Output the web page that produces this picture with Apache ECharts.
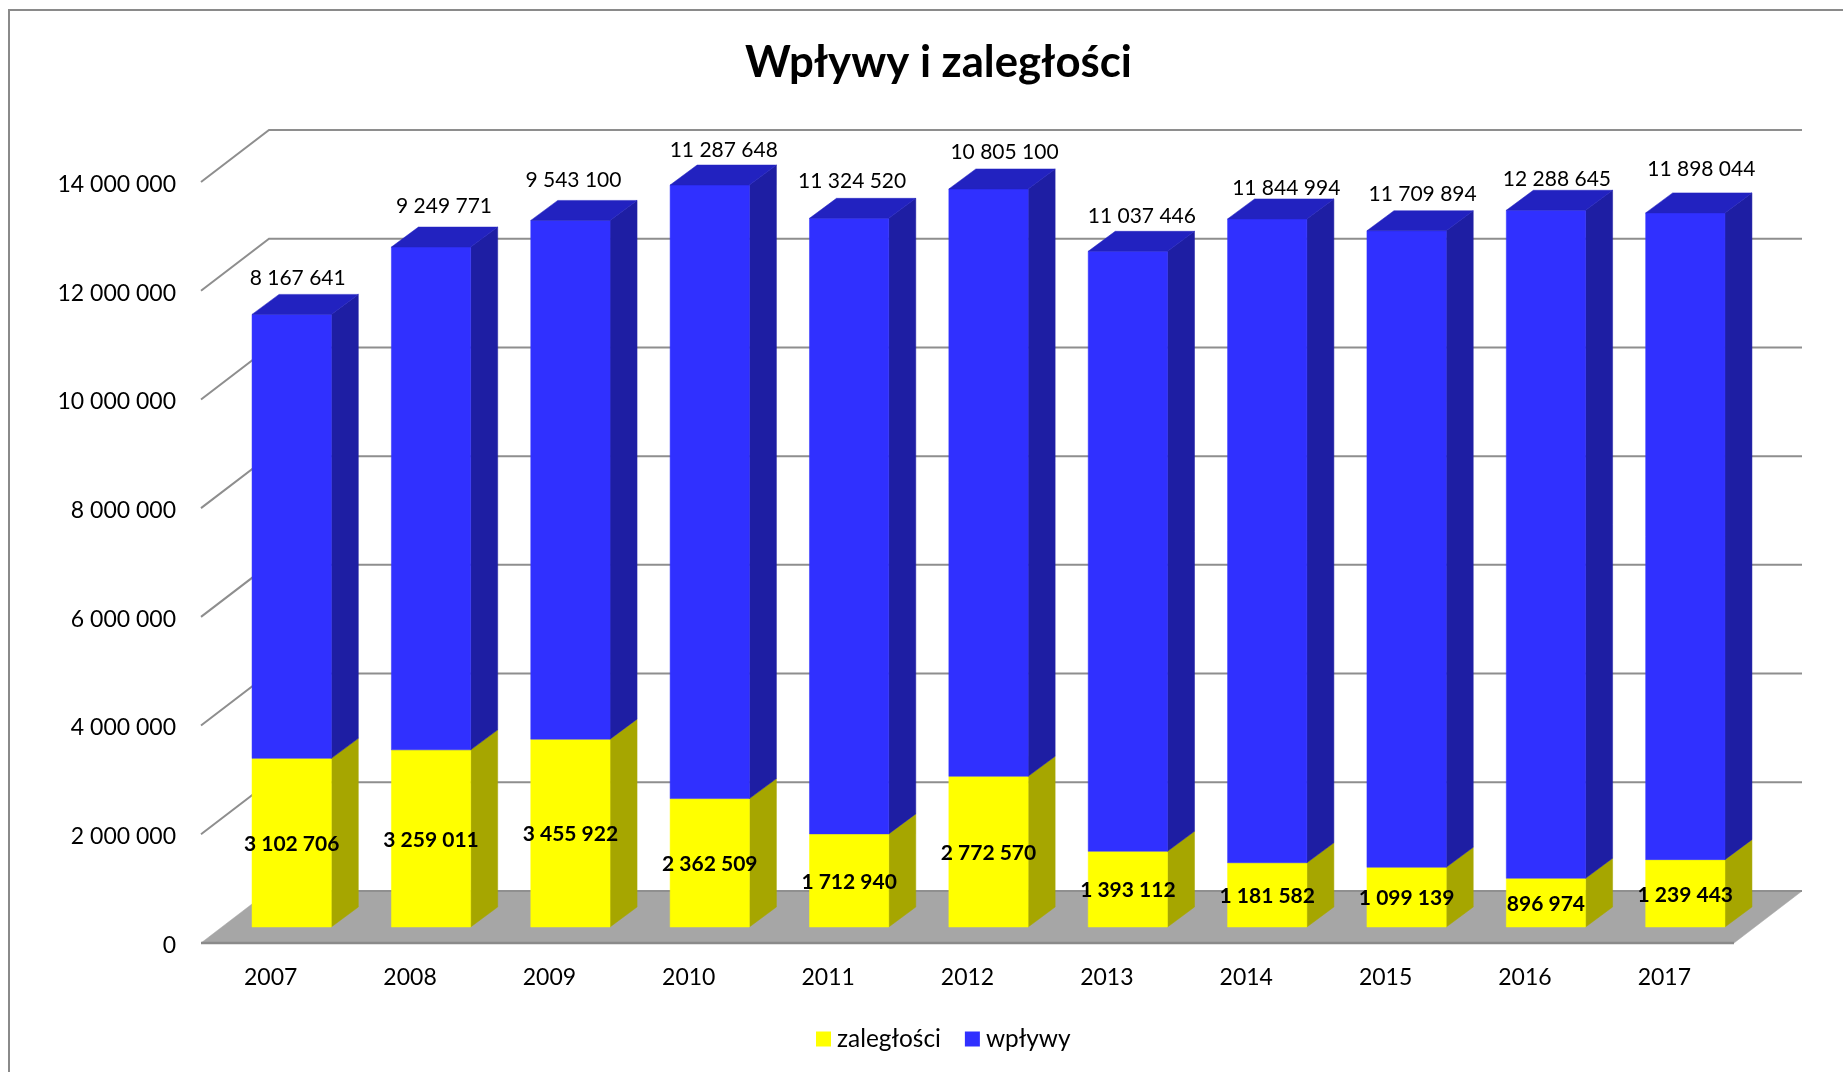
<!DOCTYPE html>
<html><head><meta charset="utf-8">
<style>html,body{margin:0;padding:0;background:#fff;overflow:hidden}#c{width:1843px;height:1072px}</style>
<script src="https://cdn.jsdelivr.net/npm/echarts@6/dist/echarts.min.js"></script>
</head><body><div id="c"></div>
<script>
const years = ['2007','2008','2009','2010','2011','2012','2013','2014','2015','2016','2017'];
const zaleglosci = [3102706,3259011,3455922,2362509,1712940,2772570,1393112,1181582,1099139,896974,1239443];
const wplywy = [8167641,9249771,9543100,11287648,11324520,10805100,11037446,11844994,11709894,12288645,11898044];
const yTicks = [0,2000000,4000000,6000000,8000000,10000000,12000000,14000000];

// label nudges for the top labels (px)
const labelNudgeX = [6,13,3,14,3,16,14,19,16,11,16];
const labelNudgeY = [-36,-41,-40,-35,-37,-37,-35,-31,-37,-31,-44];

const FONT = 'Lato, "Open Sans", sans-serif';
const fmt = v => String(v).replace(/\B(?=(\d{3})+(?!\d))/g, ' ');
// oblique projection constants
const WALL_DX = 68, WALL_DY = 52, BAR_OFF_DX = 21, BAR_OFF_DY = 16, BAR_DX = 27, BAR_DY = 20, BAR_RATIO = 0.569;

function poly(points, fill, z2) {
  return {type:'polygon', z2:z2||0, shape:{points}, style:{fill, stroke:fill, lineWidth:0.5}};
}
function renderFloor(params, api) {
  const cs = params.coordSys;
  const y = api.coord([0, 0])[1];
  const l = cs.x, r = cs.x + cs.width;
  return {type:'group', children:[
    poly([[l,y],[r,y],[r+WALL_DX,y-WALL_DY],[l+WALL_DX,y-WALL_DY]], '#A6A6A6'),
    {type:'line', shape:{x1:l,y1:y,x2:r,y2:y}, style:{stroke:'#8a8a8a',lineWidth:2.5}},
    {type:'line', shape:{x1:l+WALL_DX,y1:y-WALL_DY,x2:r+WALL_DX,y2:y-WALL_DY}, style:{stroke:'#8f8f8f',lineWidth:2}}
  ]};
}
function renderWall(params, api) {
  const cs = params.coordSys;
  const y = api.coord([0, api.value(0)])[1];
  const l = cs.x, r = cs.x + cs.width;
  return {type:'polyline', shape:{points:[[l,y],[l+WALL_DX,y-WALL_DY],[r+WALL_DX,y-WALL_DY]]},
    style:{stroke:'#8e8e8e',lineWidth:2,fill:null}};
}
function boxRenderer(front, side, top, drawTop, label) {
  return function(params, api) {
    const i = api.value(0);
    const a = api.coord([i, api.value(1)]);
    const b = api.coord([i, api.value(2)]);
    const w = api.size([1,0])[0] * BAR_RATIO;
    const x0 = a[0] + BAR_OFF_DX - w/2, x1 = x0 + w;
    const yb = a[1] - BAR_OFF_DY, yt = b[1] - BAR_OFF_DY;
    const kids = [
      poly([[x1,yb],[x1+BAR_DX,yb-BAR_DY],[x1+BAR_DX,yt-BAR_DY],[x1,yt]], side),
      poly([[x0,yb],[x1,yb],[x1,yt],[x0,yt]], front)
    ];
    if (drawTop) kids.push(poly([[x0,yt],[x1,yt],[x1+BAR_DX,yt-BAR_DY],[x0+BAR_DX,yt-BAR_DY]], top));
    kids.push(label(i, (x0+x1)/2, yb, yt));
    return {type:'group', children:kids};
  };
}
const textEl = (text,x,y,size,weight) => ({type:'text', z2:50, style:{text,x,y,align:'center',verticalAlign:'middle',
  fill:'#000',font:`${weight} ${size}px ${FONT}`}});

const option = {
  animation:false,
  backgroundColor:'#fff',
  title:{text:'Wpływy i zaległości', left:745, top:41, padding:0, textStyle:{fontFamily:FONT,fontWeight:'bold',fontSize:43.7,color:'#000'}},
  legend:{left:816, top:1027, padding:0, itemWidth:15, itemHeight:15, itemGap:24, icon:'rect',
    data:['zaległości','wpływy'], textStyle:{fontFamily:FONT,fontSize:24.4,color:'#000',padding:[0,0,0,1]}},
  grid:{left:201, top:182, width:1533, height:761, containLabel:false},
  xAxis:{type:'category', data:years, axisLine:{show:false}, axisTick:{show:false}, splitLine:{show:false},
    axisLabel:{fontFamily:FONT,fontSize:23,color:'#000',margin:23}},
  yAxis:{type:'value', min:0, max:14000000, interval:2000000, axisLine:{show:false}, axisTick:{show:false}, splitLine:{show:false},
    axisLabel:{color:'#000',margin:25,formatter:v=>`{t|${fmt(v)}}`,
      rich:{t:{fontFamily:FONT,fontSize:23,color:'#000',padding:[5,0,0,0]}}}},
  series:[
    {type:'custom', name:'walls', silent:true, z:1, renderItem:renderWall, data:yTicks.slice(1).map(v=>[v]), encode:{y:0}},
    {type:'custom', name:'floor', silent:true, z:2, renderItem:renderFloor, data:[[0]]},
    {type:'custom', name:'zaległości', z:3, itemStyle:{color:'#FFFF00'},
      renderItem:boxRenderer('#FFFF00','#A6A600','#C0C000',false,(i,cx,yb,yt)=>textEl(fmt(zaleglosci[i]),cx,(yb+yt)/2+1.5,21,'bold')),
      encode:{x:0,y:[1,2]}, data:zaleglosci.map((v,i)=>[i,0,v])},
    {type:'custom', name:'wpływy', z:3, itemStyle:{color:'#3030FF'},
      renderItem:boxRenderer('#3030FF','#1E1EA3','#2222C0',true,(i,cx,yb,yt)=>textEl(fmt(wplywy[i]),cx+labelNudgeX[i],yt+labelNudgeY[i],21,'normal')),
      encode:{x:0,y:[1,2]}, data:wplywy.map((v,i)=>[i,zaleglosci[i],zaleglosci[i]+v])}
  ],
  graphic:[{type:'rect', silent:true, z:-1, shape:{x:9,y:10,width:2000,height:2000}, style:{fill:null,stroke:'#8a8a8a',lineWidth:2}}]
};
const chart = echarts.init(document.getElementById('c'), null, {renderer:'canvas'});
chart.setOption(option);
</script></body></html>
